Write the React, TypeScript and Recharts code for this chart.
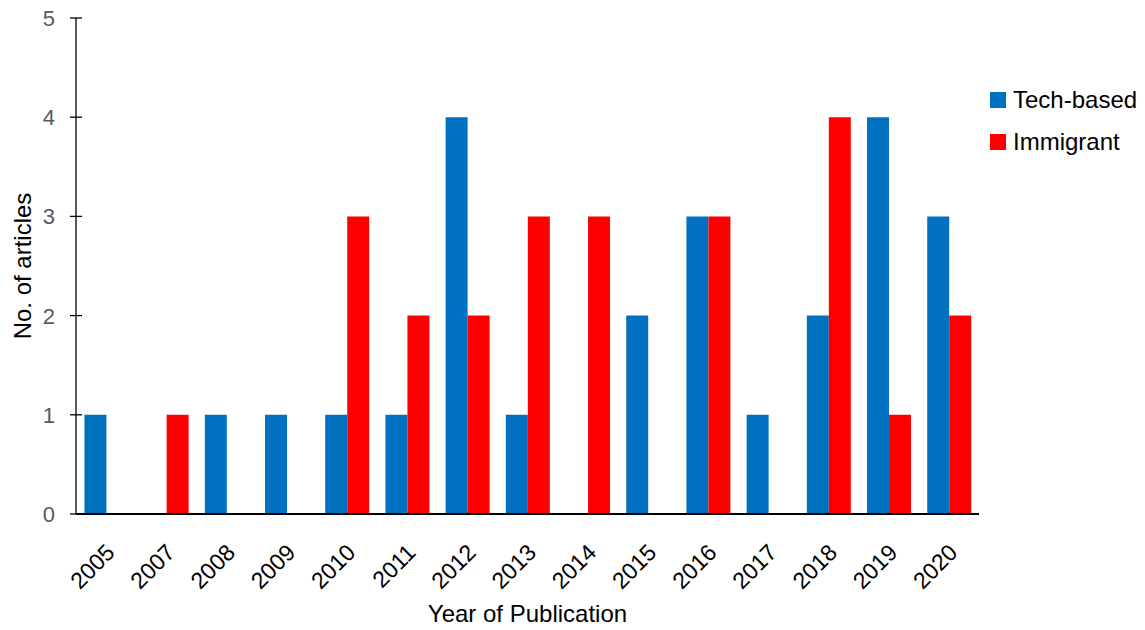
import React from 'react';
import { BarChart, Bar, XAxis, YAxis, Legend } from 'recharts';

document.body.style.margin = '0';

const years = ['2005', '2007', '2008', '2009', '2010', '2011', '2012', '2013', '2014', '2015', '2016', '2017', '2018', '2019', '2020'];
const techBased = [1, 0, 1, 1, 1, 1, 4, 1, 0, 2, 3, 1, 2, 4, 3];
const immigrant = [0, 1, 0, 0, 3, 2, 2, 3, 3, 0, 3, 0, 4, 1, 2];
const yTicks = [0, 1, 2, 3, 4, 5];
const seriesNames = ['Tech-based', 'Immigrant'];
const seriesColors = ['#0070C0', '#FF0000'];

const FONT = '"Liberation Sans", Arial, sans-serif';

const data = years.map((year, i) => ({ year, tech: techBased[i], immigrant: immigrant[i] }));

const YTick = (props: any) => {
  const { x, y, payload } = props;
  return (
    <g>
      <line x1={x + 14} x2={x + 26} y1={y} y2={y} stroke="#000" strokeWidth={1.3} />
      <text x={x - 1} y={y} dy={8} textAnchor="end" fill="#595959" fontSize={22} fontFamily={FONT}>
        {payload.value}
      </text>
    </g>
  );
};

const XTick = (props: any) => {
  const { x, y, payload } = props;
  return (
    <g transform={`translate(${x + 10},${y + 32})`}>
      <text transform="rotate(-45)" textAnchor="end" fill="#000" fontSize={23} fontFamily={FONT}>
        {payload.value}
      </text>
    </g>
  );
};

const renderLegend = () => (
  <div style={{ fontFamily: FONT, fontSize: 24 }}>
    {seriesNames.map((name, i) => (
      <div key={name} style={{ display: 'flex', alignItems: 'center', height: 42 }}>
        <span style={{ display: 'inline-block', width: 16, height: 16, background: seriesColors[i], marginRight: 7 }} />
        <span style={{ color: '#000' }}>{name}</span>
      </div>
    ))}
  </div>
);

export default function App() {
  return (
    <div style={{ width: 1145, height: 630, background: '#fff' }}>
      <BarChart
        width={1145}
        height={630}
        data={data}
        margin={{ top: 18, right: 11, left: 0, bottom: 8 }}
        barCategoryGap="14%"
        barGap={0}
      >
        <XAxis
          dataKey="year"
          interval={0}
          height={108}
          tickLine={false}
          axisLine={{ stroke: '#000', strokeWidth: 2 }}
          tick={<XTick />}
          label={{ value: 'Year of Publication', position: 'insideBottom', offset: 0, fill: '#000', fontSize: 24, fontFamily: FONT }}
        />
        <YAxis
          width={76}
          domain={[0, 5]}
          ticks={yTicks}
          tickLine={false}
          tickSize={6}
          tickMargin={14}
          axisLine={{ stroke: '#000', strokeWidth: 1.3 }}
          tick={<YTick />}
          label={{ value: 'No. of articles', angle: -90, position: 'insideLeft', offset: 22, fill: '#000', fontSize: 24, fontFamily: FONT, style: { textAnchor: 'middle' } }}
        />
        <Legend
          layout="vertical"
          align="right"
          verticalAlign="top"
          content={renderLegend}
          wrapperStyle={{ left: 990, top: 79, width: 155 }}
        />
        <Bar dataKey="tech" name={seriesNames[0]} fill={seriesColors[0]} isAnimationActive={false} />
        <Bar dataKey="immigrant" name={seriesNames[1]} fill={seriesColors[1]} isAnimationActive={false} />
      </BarChart>
    </div>
  );
}
